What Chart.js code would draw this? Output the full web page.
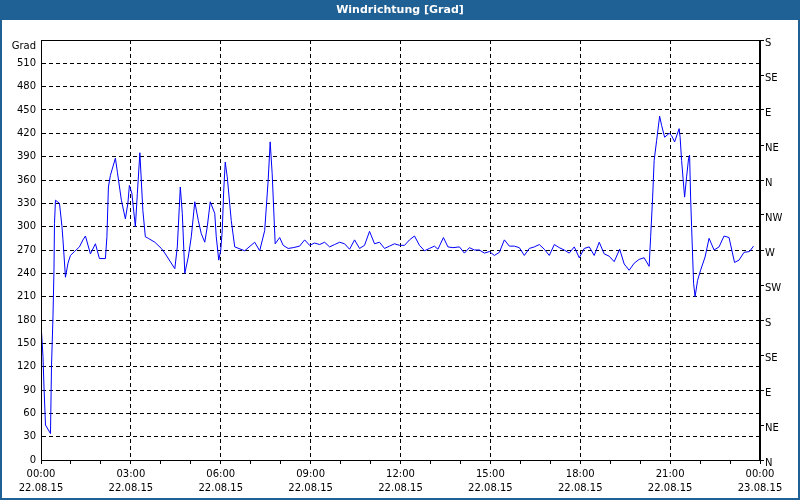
<!DOCTYPE html>
<html>
<head>
<meta charset="utf-8">
<script src="https://cdn.jsdelivr.net/npm/chart.js@4"></script>
<style>
  html, body { margin: 0; padding: 0; background: #fff; }
  #wrap { width: 800px; height: 500px; }
</style>
</head>
<body>
<div id="wrap"><canvas id="chart" width="800" height="500"></canvas></div>
<script>
Chart.defaults.font.family = 'DejaVu Sans';
Chart.defaults.font.size = 10;
Chart.defaults.color = '#000';

const TITLE = 'Windrichtung [Grad]';
const UNIT = 'Grad';
const COMPASS = ['N', 'NE', 'E', 'SE', 'S', 'SW', 'W', 'NW'];

// minutes since 22.08.15 00:00
const minutes = [
    0, 1, 4, 6, 9, 19, 21, 24, 26, 27, 29, 37, 42, 44, 49, 54, 59, 67, 77, 84,
    89, 99, 109, 117, 129, 132, 135, 139, 149, 153, 161, 169, 174, 177, 182, 189, 193, 198, 204, 209,
    215, 228, 241, 248, 268, 273, 277, 279, 283, 288, 295, 301, 308, 315, 321, 328, 333, 339, 348, 351,
    356, 360, 363, 366, 369, 373, 381, 388, 408, 428, 438, 448, 455, 459, 463, 469, 478, 485, 495, 505,
    518, 528, 538, 548, 558, 568, 578, 588, 598, 608, 618, 628, 638, 648, 658, 668, 678, 688, 698, 708,
    718, 728, 738, 748, 758, 768, 778, 788, 795, 806, 815, 825, 838, 848, 858, 868, 878, 888, 898, 908,
    918, 928, 938, 948, 958, 968, 978, 988, 998, 1008, 1018, 1028, 1038, 1048, 1058, 1068, 1078, 1088, 1098, 1108,
    1118, 1128, 1138, 1148, 1159, 1168, 1178, 1188, 1198, 1208, 1218, 1221, 1225, 1228, 1233, 1239, 1243, 1249, 1258, 1263,
    1269, 1278, 1280, 1283, 1289, 1293, 1297, 1299, 1301, 1303, 1307, 1310, 1315, 1321, 1330, 1338, 1348, 1358, 1368, 1378,
    1389, 1398, 1408, 1419, 1427
];
const degrees = [
    205, 165, 133, 94, 45, 34, 120, 184, 244, 304, 334, 330, 300, 283, 235, 253, 263, 268, 274, 283,
    288, 265, 278, 259, 259, 287, 351, 366, 388, 370, 334, 310, 330, 353, 343, 300, 343, 395, 321, 287,
    285, 280, 272, 266, 246, 274, 325, 351, 317, 240, 261, 287, 332, 308, 291, 280, 300, 332, 317, 287,
    257, 270, 295, 347, 383, 364, 308, 274, 269, 280, 269, 295, 360, 409, 368, 278, 286, 276, 272, 273,
    275, 283, 276, 279, 277, 280, 274, 277, 280, 278, 271, 283, 272, 276, 294, 278, 280, 272, 275, 278,
    276, 276, 283, 288, 276, 269, 272, 275, 271, 286, 274, 273, 274, 266, 273, 270, 270, 266, 268, 263,
    267, 283, 275, 275, 273, 263, 272, 274, 277, 271, 263, 277, 273, 270, 266, 274, 260, 272, 274, 263,
    280, 265, 262, 255, 271, 252, 244, 253, 258, 260, 249, 287, 338, 385, 411, 442, 430, 415, 420, 417,
    409, 426, 415, 385, 338, 364, 388, 392, 338, 300, 227, 210, 231, 244, 261, 285, 270, 274, 288, 286,
    254, 257, 267, 268, 275
];

const Y_MIN = 0, Y_MAX = 540, Y_STEP = 30, COMPASS_STEP = 45;
const X_MIN = 0, X_MAX = 1440, X_STEP = 60, X_MAJOR = 180;
const dates = ['22.08.15', '23.08.15'];

const pad2 = n => String(n).padStart(2, '0');

const framePlugin = {
    id: 'frame',
    beforeDraw(chart) {
        const ctx = chart.ctx;
        ctx.save();
        ctx.fillStyle = '#fff';
        ctx.fillRect(0, 0, chart.width, chart.height);
        ctx.restore();
    },
    afterDraw(chart) {
        const ctx = chart.ctx;
        const a = chart.chartArea;
        ctx.save();
        // plot frame
        ctx.strokeStyle = '#000';
        ctx.lineWidth = 1;
        ctx.setLineDash([]);
        ctx.strokeRect(Math.round(a.left) + 0.5, Math.round(a.top) + 0.5,
            Math.round(a.right - a.left) - 1, Math.round(a.bottom - a.top));
        // unit label above the left axis
        ctx.fillStyle = '#000';
        ctx.font = '10px "DejaVu Sans"';
        ctx.textAlign = 'right';
        ctx.textBaseline = 'middle';
        ctx.fillText(UNIT, a.left - 5, a.top + 6);
        // window border and title bar
        ctx.fillStyle = '#1f6095';
        ctx.fillRect(0, 0, chart.width, 20);
        ctx.fillRect(0, 0, 2, chart.height);
        ctx.fillRect(chart.width - 2, 0, 2, chart.height);
        ctx.fillRect(0, chart.height - 2, chart.width, 2);
        ctx.fillStyle = '#fff';
        ctx.font = 'bold 11px "DejaVu Sans"';
        ctx.textAlign = 'center';
        ctx.fillText(TITLE, chart.width / 2, 10);
        ctx.restore();
    }
};

new Chart(document.getElementById('chart'), {
    type: 'line',
    data: {
        datasets: [{
            data: minutes.map((m, i) => ({ x: m, y: degrees[i] })),
            borderColor: '#0000ff',
            borderWidth: 1,
            pointRadius: 0,
            tension: 0,
            yAxisID: 'y',
        }],
    },
    options: {
        responsive: false,
        animation: false,
        events: [],
        layout: { padding: { top: 40, left: 0, right: 0, bottom: 0 } },
        plugins: { legend: { display: false }, tooltip: { enabled: false }, title: { display: false } },
        scales: {
            x: {
                type: 'linear',
                min: X_MIN,
                max: X_MAX,
                afterFit(scale) { scale.height = 40; },
                border: { display: true, color: '#000', dash: [4, 3] },
                grid: {
                    color: ctx => (ctx.tick && ctx.tick.value % X_MAJOR === 0) ? '#000' : 'rgba(0,0,0,0)',
                    tickColor: '#000',
                    tickLength: 4,
                    drawTicks: true,
                },
                ticks: {
                    stepSize: X_STEP,
                    autoSkip: false,
                    maxRotation: 0,
                    padding: 4,
                    font: { size: 10, lineHeight: 1.35 },
                    callback(v) {
                        if (v % X_MAJOR !== 0) return '';
                        const h = Math.floor(v / 60) % 24;
                        return [pad2(h) + ':00', dates[Math.floor(v / 1440)]];
                    },
                },
            },
            y: {
                position: 'left',
                min: Y_MIN,
                max: Y_MAX,
                afterFit(scale) { scale.width = 41; },
                border: { display: true, color: '#000', dash: [4, 3] },
                grid: { color: '#000', drawTicks: false },
                ticks: {
                    stepSize: Y_STEP,
                    padding: 5,
                    callback: v => v === Y_MAX ? '' : v,
                },
            },
            y2: {
                position: 'right',
                min: Y_MIN,
                max: Y_MAX,
                afterFit(scale) { scale.width = 40; },
                border: { display: true, color: '#000' },
                grid: { drawOnChartArea: false, drawTicks: true, tickLength: 4, tickColor: '#000' },
                ticks: {
                    stepSize: COMPASS_STEP,
                    padding: 1,
                    labelOffset: 3,
                    callback: v => COMPASS[(v / COMPASS_STEP) % COMPASS.length],
                },
            },
        },
    },
    plugins: [framePlugin],
});
</script>
</body>
</html>
